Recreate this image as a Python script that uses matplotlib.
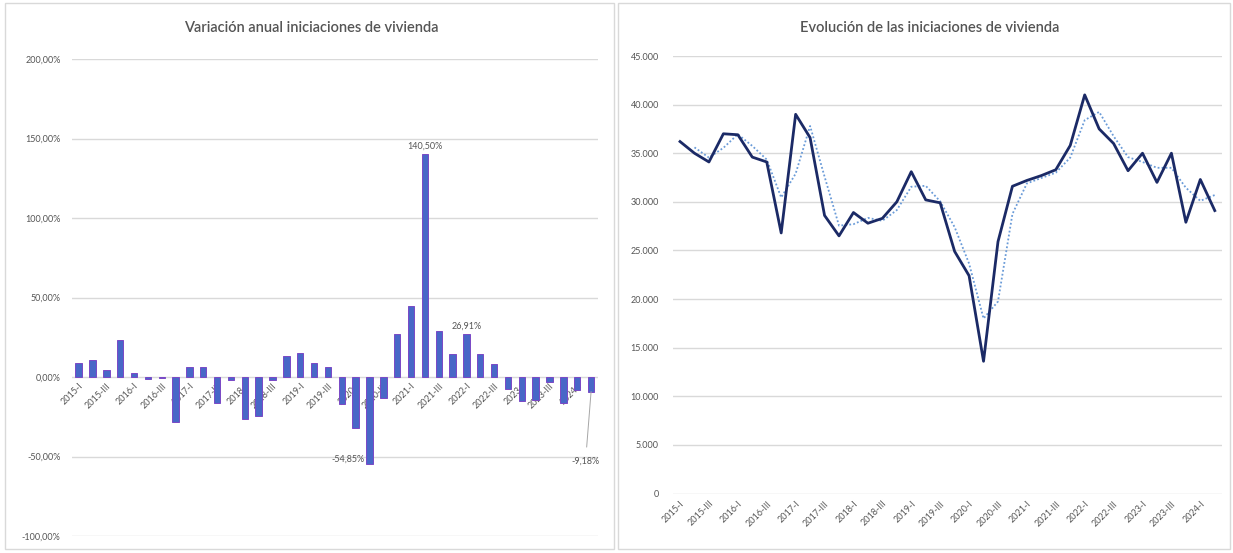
import matplotlib
matplotlib.use("Agg")
import matplotlib.pyplot as plt
import matplotlib.patches as patches
from matplotlib.ticker import FuncFormatter
import pandas as pd

# quarters 2015-I .. 2024-II
years = list(range(2015, 2025))
roman = ["I", "II", "III", "IV"]
quarters = [f"{y}-{q}" for y in years for q in roman][:38]

# annual variation (%)
variacion = [
    9.0, 10.6, 4.4, 23.2, 2.3, -1.5, -0.9, -28.0,
    6.3, 6.3, -16.2, -1.6, -26.7, -24.6, -1.9, 13.4,
    15.2, 9.0, 6.3, -16.8, -31.9, -54.85, -13.1, 26.8,
    44.5, 140.50, 29.0, 14.3, 26.91, 14.3, 8.2, -7.5,
    -14.8, -14.6, -3.1, -16.3, -8.3, -9.18,
]

# housing starts
iniciaciones = [
    36200, 35000, 34100, 37000, 36900, 34600, 34100, 26800,
    39000, 36600, 28600, 26500, 28900, 27800, 28300, 30000,
    33100, 30200, 29900, 24900, 22400, 13600, 25900, 31600,
    32200, 32700, 33300, 35800, 41000, 37500, 36000, 33200,
    35000, 32000, 35000, 27900, 32300, 29100,
]

labeled = {25: "140,50%", 28: "26,91%"}

GRID = "#D9D9D9"
TXT = "#555555"
plt.rcParams["font.family"] = ["Lato", "DejaVu Sans"]

fig = plt.figure(figsize=(12.33, 5.53), dpi=100)
fig.patch.set_facecolor("white")

# panel frames
for x0, x1 in [(5, 614), (618, 1230)]:
    fig.add_artist(patches.Rectangle((x0 / 1233, 4 / 553), (x1 - x0) / 1233, 546 / 553,
                                     transform=fig.transFigure, fill=False,
                                     edgecolor=GRID, linewidth=1.0))

# ---- left: annual variation bars ----
ax1 = fig.add_axes([71.7 / 1233, (553 - 536) / 553, (598 - 71.7) / 1233, (536 - 59) / 553])
x = list(range(len(quarters)))
ax1.bar(x, variacion, width=0.46, color="#4867C7", edgecolor="#7A48C6", linewidth=0.7, zorder=3)
ax1.set_xlim(-0.5, len(quarters) - 0.5)
ax1.set_ylim(-100, 200)
ax1.set_yticks([-100, -50, 0, 50, 100, 150, 200])
ax1.yaxis.set_major_formatter(FuncFormatter(lambda v, p: f"{v:.2f}%".replace(".", ",")))
ax1.grid(axis="y", color=GRID, linewidth=1.0, zorder=0)
for s in ax1.spines.values():
    s.set_visible(False)
ax1.spines["bottom"].set_position(("data", 0))
ax1.set_xticks(x[::2])
ax1.set_xticklabels(quarters[::2], rotation=45, ha="right", rotation_mode="anchor")
ax1.tick_params(axis="x", length=0, pad=3, labelsize=6.5, labelcolor=TXT)
ax1.tick_params(axis="y", length=0, pad=8, labelsize=6.5, labelcolor=TXT)
for i, t in labeled.items():
    ax1.text(i, variacion[i] + 2, t, ha="center", va="bottom", fontsize=6.5, color=TXT)
ax1.text(21 - 0.35, variacion[21] + 3, "-54,85%", ha="right", va="center", fontsize=6.5, color=TXT)
ax1.annotate("-9,18%", xy=(37, variacion[37]), xytext=(36.6, -53), ha="center", va="center",
             fontsize=6.5, color=TXT,
             arrowprops=dict(arrowstyle="-", color="#A6A6A6", linewidth=0.7, shrinkA=5, shrinkB=0))
fig.text(311 / 1233, 1 - 28 / 553, "Variación anual iniciaciones de vivienda", ha="center", va="center",
         fontsize=10.5, color=TXT, fontweight="semibold")

# ---- right: housing starts line ----
ax2 = fig.add_axes([672.8 / 1233, (553 - 493.5) / 553, (1222 - 672.8) / 1233, (493.5 - 56) / 553])
media = pd.Series(iniciaciones).rolling(2).mean()
ax2.plot(x, media, color="#6A9BD8", linewidth=1.3, linestyle=(0, (1, 1.2)), zorder=3)
ax2.plot(x, iniciaciones, color="#1B2A66", linewidth=2.0, zorder=4)
ax2.set_xlim(-0.5, len(quarters) - 0.5)
ax2.set_ylim(0, 45000)
ax2.set_yticks(range(0, 45001, 5000))
ax2.yaxis.set_major_formatter(FuncFormatter(lambda v, p: f"{v:,.0f}".replace(",", ".")))
ax2.grid(axis="y", color=GRID, linewidth=1.0, zorder=0)
for s in ax2.spines.values():
    s.set_visible(False)
ax2.set_xticks(x[::2])
ax2.set_xticklabels(quarters[::2], rotation=45, ha="right", rotation_mode="anchor")
ax2.tick_params(axis="x", length=0, pad=4, labelsize=6.5, labelcolor=TXT)
ax2.tick_params(axis="y", length=0, pad=10, labelsize=6.5, labelcolor=TXT)
fig.text(930 / 1233, 1 - 28 / 553, "Evolución de las iniciaciones de vivienda", ha="center", va="center",
         fontsize=10.5, color=TXT, fontweight="semibold")

fig.savefig("out.png", dpi=100, facecolor="white")
